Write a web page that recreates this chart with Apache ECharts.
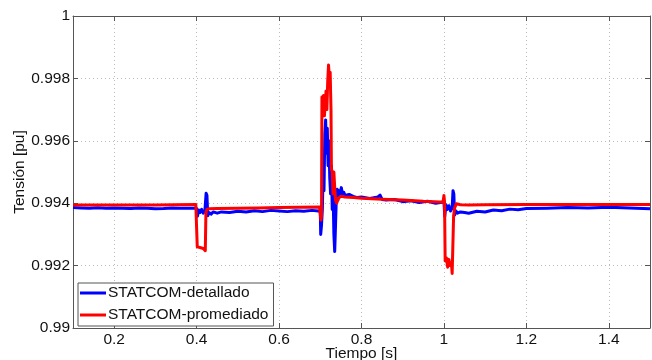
<!DOCTYPE html>
<html>
<head>
<meta charset="utf-8">
<script src="https://cdn.jsdelivr.net/npm/echarts@6/dist/echarts.min.js"></script>
<style>
html,body{margin:0;padding:0;background:#fff;}
#c{width:652px;height:360px;}
</style>
</head>
<body>
<div id="c"></div>
<script>
// ---- Data ----
const seriesNames = ['STATCOM-detallado', 'STATCOM-promediado'];

// STATCOM-detallado (blue)
const tDet = [
  0.100,0.120,0.140,0.160,0.180,0.200,0.220,0.240,0.260,0.280,0.300,0.320,0.340,0.360,0.380,0.395,
  0.400,0.402,0.405,0.408,0.412,0.416,0.420,0.423,0.425,0.427,0.430,0.435,0.440,0.450,0.460,0.480,
  0.500,0.520,0.540,0.560,0.580,0.600,0.620,0.640,0.660,0.680,0.695,
  0.700,0.701,0.703,0.705,0.707,0.709,0.711,0.713,0.715,0.717,0.719,0.721,0.723,0.725,0.727,0.729,
  0.731,0.733,0.735,0.737,0.739,0.741,0.743,0.745,0.748,0.751,0.754,0.757,0.760,0.770,0.780,0.790,
  0.800,0.820,0.840,0.845,0.850,0.860,0.880,0.900,0.920,0.940,0.960,0.980,0.995,
  1.000,1.002,1.005,1.008,1.012,1.016,1.020,1.022,1.024,1.026,1.029,1.033,1.040,1.050,1.060,1.080,
  1.100,1.120,1.140,1.160,1.180,1.200,1.250,1.300,1.350,1.400,1.450,1.500
];
const vDet = [
  0.993860,0.993850,0.993840,0.993855,0.993835,0.993850,0.993840,0.993830,0.993850,0.993835,0.993820,0.993830,0.993850,0.993840,0.993835,0.993840,
  0.99383,0.99358,0.99378,0.99370,0.99380,0.99368,0.99375,0.99432,0.99425,0.99360,0.99370,0.99365,0.99372,0.99368,0.99372,0.99370,
  0.99374,0.99372,0.99376,0.99373,0.99377,0.99375,0.99373,0.99376,0.99374,0.99377,0.99375,
  0.99374,0.99300,0.99330,0.99380,0.99500,0.99440,0.99620,0.99667,0.99560,0.99640,0.99520,0.99600,0.99480,0.99430,0.99520,0.99380,
  0.99440,0.99300,0.99245,0.99330,0.99420,0.99445,0.99410,0.99440,0.99430,0.99450,0.99428,0.99435,0.99425,0.99428,0.99422,0.99418,
  0.99420,0.99415,0.99420,0.99426,0.99412,0.99410,0.99412,0.99405,0.99408,0.99402,0.99406,0.99400,0.99403,
  0.99405,0.99358,0.99395,0.99380,0.99392,0.99375,0.99385,0.99440,0.99430,0.99362,0.99375,0.99368,0.99372,0.99370,0.99368,0.99374,
  0.99372,0.99378,0.99376,0.99381,0.99379,0.99383,0.99384,0.99386,0.99385,0.99387,0.99385,0.99382
];

// STATCOM-promediado (red)
const tProm = [
  0.100,0.200,0.300,0.398,0.400,0.4015,0.404,0.408,0.412,0.416,0.419,0.421,0.4225,0.425,0.430,0.450,
  0.500,0.550,0.600,0.650,0.698,
  0.700,0.7015,0.703,0.704,0.706,0.708,0.710,0.712,0.714,0.716,0.718,0.720,0.722,0.724,0.726,0.727,
  0.729,0.731,0.733,0.735,0.737,0.740,0.743,0.746,0.750,0.760,0.780,0.800,0.850,0.900,0.950,0.990,0.998,
  1.000,1.0015,1.003,1.006,1.009,1.012,1.015,1.018,1.020,1.022,1.0235,1.026,1.030,1.040,1.060,1.100,
  1.200,1.300,1.400,1.500
];
const vProm = [
  0.99394,0.99394,0.99394,0.99396,0.99402,0.99260,0.99265,0.99258,0.99262,0.99255,0.99250,0.99248,0.99370,0.99380,0.99382,0.99383,
  0.99384,0.99385,0.99386,0.99387,0.99388,
  0.99388,0.99346,0.99360,0.99740,0.99700,0.99745,0.99680,0.99720,0.99760,0.99700,0.99790,0.99843,0.99800,0.99820,0.99700,0.99510,
  0.99500,0.99430,0.99500,0.99450,0.99410,0.99400,0.99415,0.99420,0.99422,0.99420,0.99418,0.99416,0.99413,0.99410,0.99406,0.99404,0.99405,
  0.99425,0.99405,0.99215,0.99225,0.99195,0.99220,0.99200,0.99210,0.99175,0.99170,0.99360,0.99385,0.99398,0.99395,0.99394,0.99395,
  0.99396,0.99396,0.99396,0.99396
];

const xMin = 0.1, xMax = 1.5;
const yMin = 0.99, yMax = 1.0, yStep = 0.002;
const xTitle = 'Tiempo [s]';
const yTitle = 'Tensión [pu]';

// ---- Chart ----
const FONT = 'Liberation Sans, Arial, Helvetica, sans-serif';
const AX = '#555555';
const chart = echarts.init(document.getElementById('c'), null, {renderer: 'canvas'});

function zip(t, v) { return t.map((x, i) => [x, v[i]]); }

const gridLine = {show: true, lineStyle: {color: '#bcbcbc', type: [1, 3], width: 1}};

chart.setOption({
  animation: false,
  backgroundColor: '#ffffff',
  grid: {left: 73, right: 2, top: 16, bottom: 32, containLabel: false, outerBoundsMode: 'none'},
  legend: {
    orient: 'vertical',
    left: 78, top: 283,
    padding: [2, 5, 3, 2],
    itemGap: 6,
    itemWidth: 26, itemHeight: 3,
    icon: 'rect',
    backgroundColor: '#ffffff',
    borderColor: AX, borderWidth: 1,
    textStyle: {fontFamily: FONT, fontSize: 15.5, color: '#111', lineHeight: 16, padding: [0, 0, 0, -3]},
    data: seriesNames
  },
  xAxis: [{
    type: 'value', min: xMin, max: xMax, splitNumber: 7,
    name: xTitle, nameLocation: 'middle', nameGap: 18, nameMoveOverlap: false,
    nameTextStyle: {fontFamily: FONT, fontSize: 15.5, color: '#111'},
    axisLine: {show: true, lineStyle: {color: AX, width: 1}},
    axisTick: {show: true, inside: true, length: 5, lineStyle: {color: AX}},
    axisLabel: {fontFamily: FONT, fontSize: 15.5, color: '#111', margin: 4, showMinLabel: false, showMaxLabel: false},
    splitLine: gridLine
  }, {
    type: 'value', min: xMin, max: xMax, splitNumber: 7, position: 'top',
    axisLine: {show: true, lineStyle: {color: AX, width: 1}},
    axisTick: {show: true, inside: true, length: 5, lineStyle: {color: AX}},
    axisLabel: {show: false}, splitLine: {show: false}
  }],
  yAxis: [{
    type: 'value', min: yMin, max: yMax, interval: yStep,
    name: yTitle, nameLocation: 'middle', nameGap: 45, nameRotate: 90, nameMoveOverlap: false,
    nameTextStyle: {fontFamily: FONT, fontSize: 15.5, color: '#111'},
    axisLine: {show: true, lineStyle: {color: AX, width: 1}},
    axisTick: {show: true, inside: true, length: 5, lineStyle: {color: AX}},
    axisLabel: {fontFamily: FONT, fontSize: 15.5, color: '#111', margin: 3},
    splitLine: gridLine
  }, {
    type: 'value', min: yMin, max: yMax, interval: yStep, position: 'right',
    axisLine: {show: true, lineStyle: {color: AX, width: 1}},
    axisTick: {show: true, inside: true, length: 5, lineStyle: {color: AX}},
    axisLabel: {show: false}, splitLine: {show: false}
  }],
  series: [{
    name: seriesNames[0], type: 'line', data: zip(tDet, vDet),
    showSymbol: false, symbol: 'none', color: '#0000ff',
    lineStyle: {color: '#0000ff', width: 3, join: 'round'}, z: 3
  }, {
    name: seriesNames[1], type: 'line', data: zip(tProm, vProm),
    showSymbol: false, symbol: 'none', color: '#ff0000',
    lineStyle: {color: '#ff0000', width: 3, join: 'round'}, z: 4
  }]
});
</script>
</body>
</html>
